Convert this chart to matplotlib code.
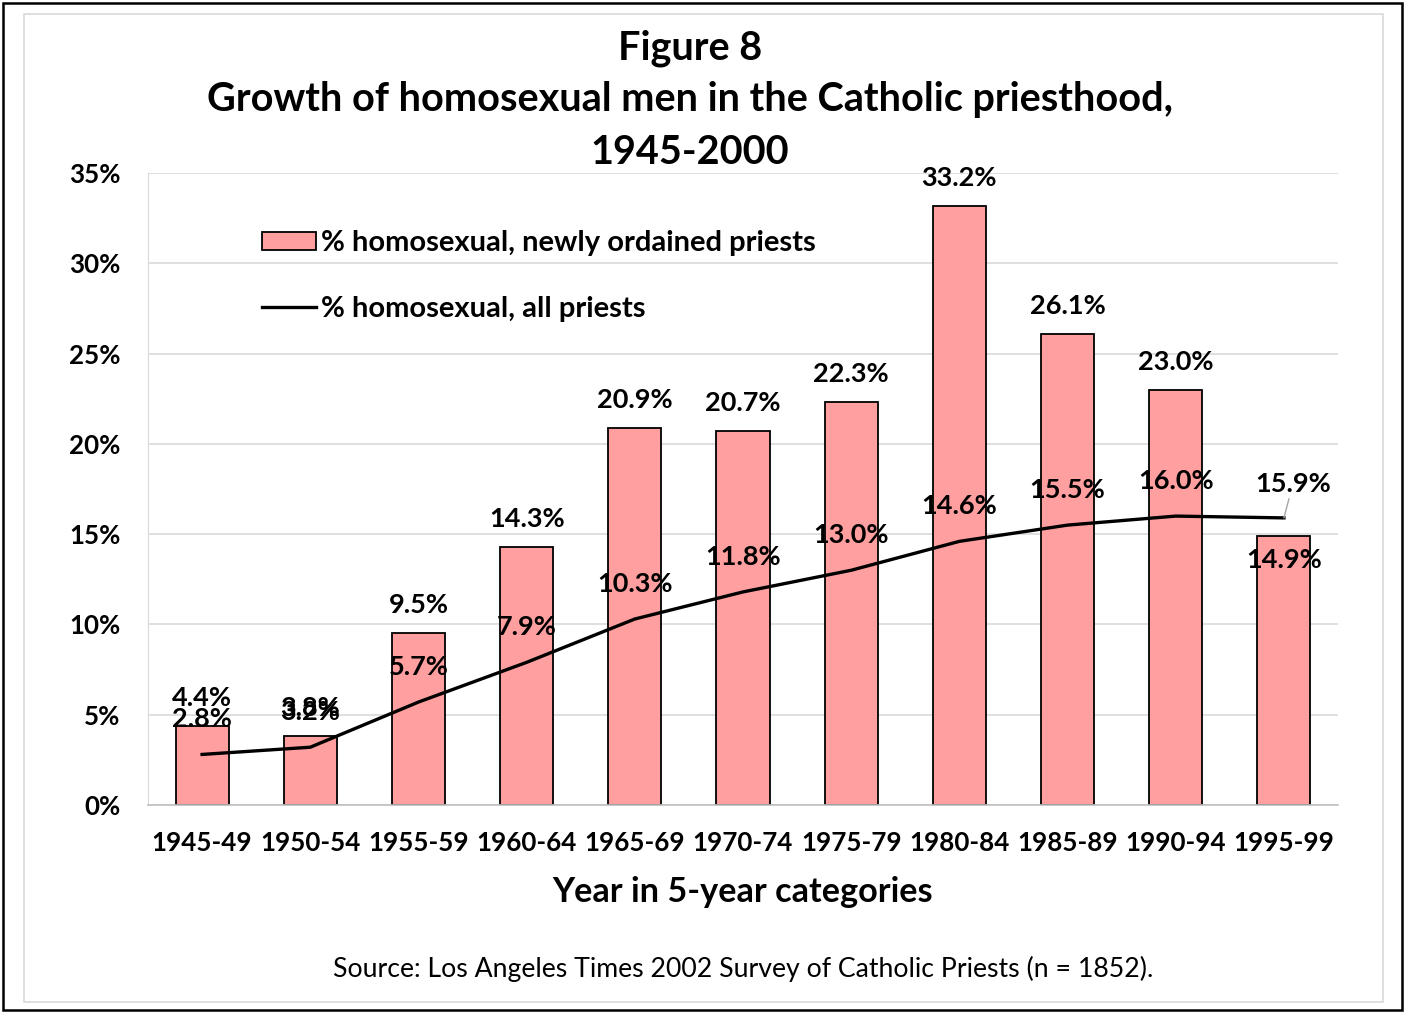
import matplotlib
matplotlib.use('Agg')
import matplotlib.pyplot as plt
from matplotlib.patches import Rectangle

#========================= Data ===============================================
years = ['1945-49', '1950-54', '1955-59', '1960-64', '1965-69', '1970-74',
         '1975-79', '1980-84', '1985-89', '1990-94', '1995-99']
new_priests = [4.4, 3.8, 9.5, 14.3, 20.9, 20.7, 22.3, 33.2, 26.1, 23.0, 14.9]
all_priests = [2.8, 3.2, 5.7, 7.9, 10.3, 11.8, 13.0, 14.6, 15.5, 16.0, 15.9]
yticks = [0, 5, 10, 15, 20, 25, 30, 35]

plt.rcParams['font.family'] = ['Lato', 'DejaVu Sans']

#========================= Figure =============================================
fig = plt.figure(figsize=(14.05, 10.13), dpi=100)
fig.patches.append(Rectangle((0.002, 0.003), 0.996, 0.994, transform=fig.transFigure,
                             fill=False, ec='black', lw=1.8))
fig.patches.append(Rectangle((24/1405, 1-1002/1013), 1359/1405, 988/1013,
                             transform=fig.transFigure, fill=False, ec='#D9D9D9', lw=1.2))

ax = fig.add_axes([148/1405, 1-805/1013, 1190/1405, 632/1013])
x = list(range(len(years)))
bars = ax.bar(x, new_priests, width=0.49, color='#FF9F9F', edgecolor='black', lw=1.3,
              zorder=2)
line, = ax.plot(x, all_priests, color='black', lw=2.4, zorder=3)

ax.set_xlim(-0.5, len(years) - 0.5)
ax.set_ylim(0, 35)
ax.set_yticks(yticks)
ax.set_yticklabels([f'{t}%' for t in yticks])
ax.set_xticks(x)
ax.set_xticklabels(years)
ax.tick_params(length=0, labelsize=18.7)
ax.tick_params(axis='y', pad=20)
ax.tick_params(axis='x', pad=19)
for lab in ax.get_xticklabels() + ax.get_yticklabels():
    lab.set_fontweight('bold')
ax.grid(axis='y', color='#D9D9D9', lw=1.2, zorder=0)
ax.set_axisbelow(True)
for s in ['top', 'right']:
    ax.spines[s].set_visible(False)
ax.spines['left'].set_color('#D9D9D9')
ax.spines['bottom'].set_color('#BFBFBF')
ax.spines['bottom'].set_linewidth(1.2)

# data labels
lbl = dict(ha='center', va='center', fontsize=19.5, fontweight='bold', zorder=5)
for i, v in enumerate(new_priests):
    dy = -24 if i == len(years) - 1 else 28
    ax.annotate(f'{v:.1f}%', (i, v), xytext=(0, dy), textcoords='offset pixels', **lbl)
for i, v in enumerate(all_priests):
    if i == len(years) - 1:
        ax.annotate(f'{v:.1f}%', (i, v), xytext=(9, 34), textcoords='offset pixels',
                    arrowprops=dict(arrowstyle='-', color='#A6A6A6', lw=1,
                                    shrinkA=0, shrinkB=0), **lbl)
    else:
        ax.annotate(f'{v:.1f}%', (i, v), xytext=(0, 35), textcoords='offset pixels', **lbl)

ax.legend([bars, line], ['% homosexual, newly ordained priests', '% homosexual, all priests'],
          loc='upper left', bbox_to_anchor=(0.074, 0.951), frameon=False,
          prop={'weight': 'bold', 'size': 21}, handlelength=1.85, handleheight=0.55,
          handletextpad=0.15, labelspacing=1.35)

#========================= Titles =============================================
title_kw = dict(ha='center', va='center', fontsize=28.5, fontweight='bold')
fig.text(690/1405, 1-48/1013, 'Figure 8', **title_kw)
fig.text(690/1405, 1-100/1013, 'Growth of homosexual men in the Catholic priesthood,', **title_kw)
fig.text(690/1405, 1-152/1013, '1945-2000', **title_kw)
fig.text(743/1405, 1-892/1013, 'Year in 5-year categories', ha='center', va='center',
         fontsize=24.7, fontweight='bold')
fig.text(743/1405, 1-969/1013,
         'Source: Los Angeles Times 2002 Survey of Catholic Priests (n = 1852).',
         ha='center', va='center', fontsize=19.2)

fig.savefig('out.png', dpi=100)
